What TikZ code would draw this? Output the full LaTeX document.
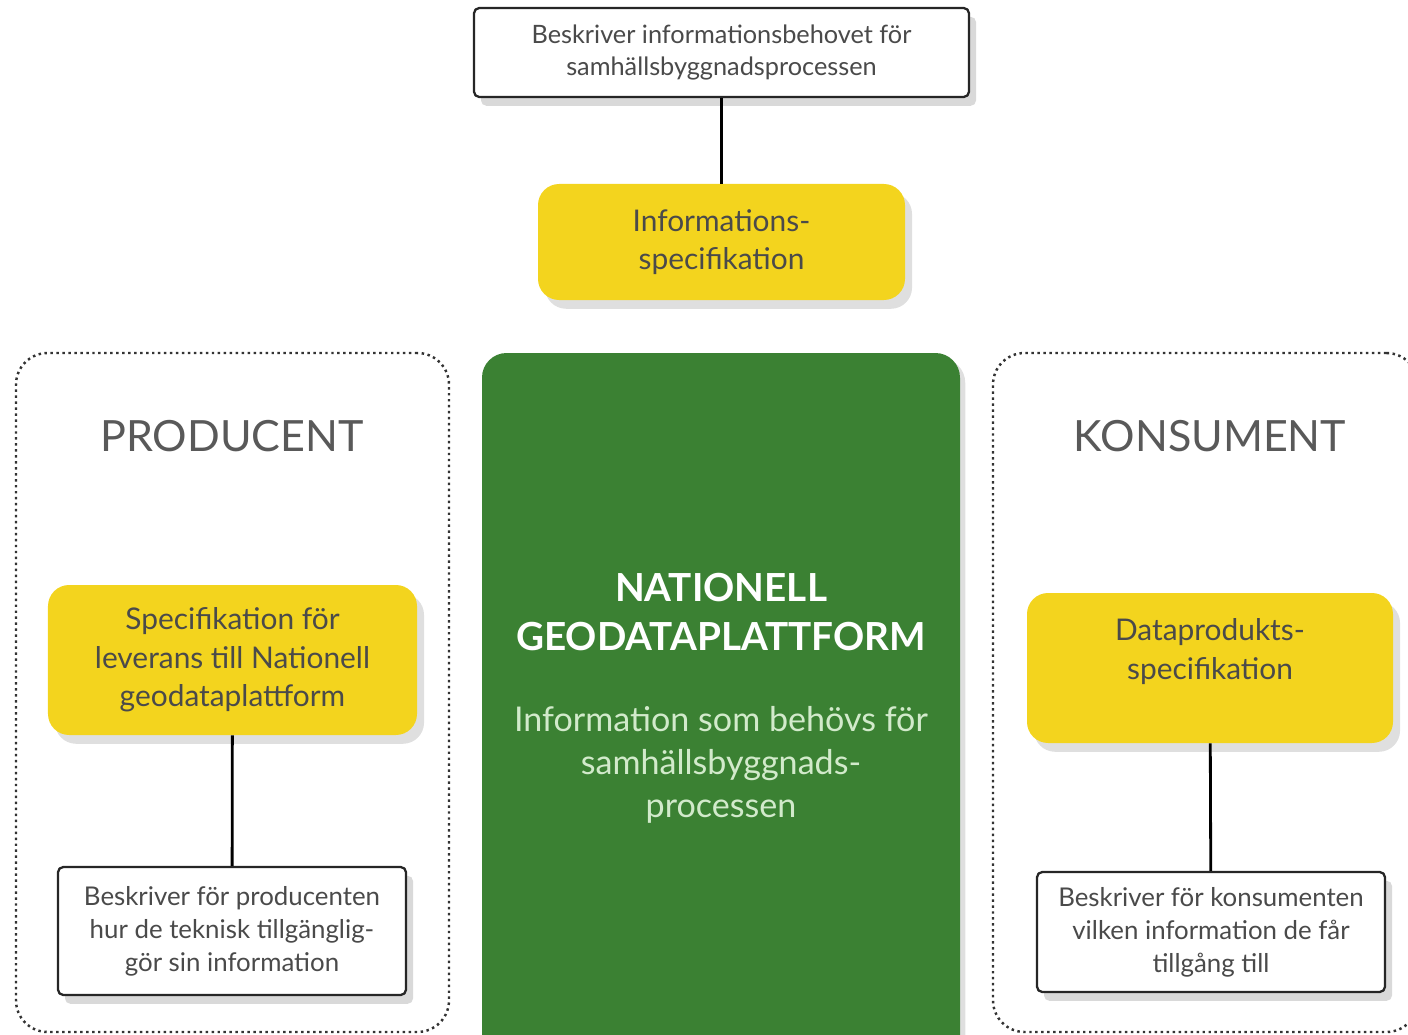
\documentclass[tikz,border=0pt]{standalone}
\usepackage{fontspec}
\setmainfont{Lato}
\usepackage{tikz}
\usetikzlibrary{shadows}

\definecolor{gpyellow}{HTML}{F3D41E}
\definecolor{gpgreen}{HTML}{3B8133}
\definecolor{gptext}{HTML}{4A4A4A}
\definecolor{gplight}{HTML}{D2EACB}

\begin{document}
\begin{tikzpicture}[line join=round]
    \tikzstyle{link} = [line width=1.6pt, draw=black]
    \tikzstyle{descbox} = [rectangle, rounded corners=3pt, draw=black!85, line width=1.3pt, fill=white, text=gptext, align=center, inner sep=0pt, drop shadow={opacity=0.3, shadow xshift=4pt, shadow yshift=-5pt}]
    \tikzstyle{specbox} = [rectangle, rounded corners=12pt, fill=gpyellow, text=gptext, align=center, inner sep=0pt, drop shadow={opacity=0.25, shadow xshift=4pt, shadow yshift=-5pt}]
    \tikzstyle{group} = [rectangle, rounded corners=18pt, draw=black!80, dotted, line width=1.4pt]
    \tikzstyle{grouptitle} = [text=black!65, font=\fontsize{24.5}{28}\selectfont]
    \useasboundingbox (0,0) rectangle (28.16,-20.7);

    % groups
    \node (prod) [group, minimum width=8.66cm, minimum height=13.58cm] at (4.65,-13.85) {};
    \node (kons) [group, minimum width=8.5cm, minimum height=13.58cm] at (24.11,-13.85) {};
    \node (prod-title) [grouptitle] at (4.64,-8.72) {PRODUCENT};
    \node (kons-title) [grouptitle] at (24.2,-8.72) {KONSUMENT};

    % platform
    \node (ngp) [rectangle, rounded corners=14pt, fill=gpgreen, minimum width=9.56cm, minimum height=14.4cm, drop shadow={opacity=0.25, shadow xshift=3pt, shadow yshift=-3pt}] at (14.42,-14.26) {};
    \node (ngp-title) [text=white, align=center, font=\bfseries\fontsize{22}{28}\selectfont] at (14.42,-12.24) {NATIONELL\\GEODATAPLATTFORM};
    \node (ngp-text) [text=gplight, align=center, font=\fontsize{19.4}{24.5}\selectfont] at (14.42,-15.3) {Information som behövs för\\samhällsbyggnads-\\processen};

    % information specification
    \node (info-desc) [descbox, minimum width=9.9cm, minimum height=1.78cm, font=\fontsize{14.4}{18}\selectfont] at (14.43,-1.05) {Beskriver informationsbehovet för\\samhällsbyggnadsprocessen};
    \node (info-spec) [specbox, minimum width=7.34cm, minimum height=2.32cm, font=\fontsize{17}{21.6}\selectfont] at (14.43,-4.84) {Informations-\\specifikation};

    % producer side
    \node (prod-spec) [specbox, minimum width=7.38cm, minimum height=3.0cm, font=\fontsize{17}{22}\selectfont] at (4.65,-13.2) {Specifikation för\\leverans till Nationell\\geodataplattform};
    \node (prod-desc) [descbox, minimum width=6.96cm, minimum height=2.56cm, font=\fontsize{14.7}{18.8}\selectfont] at (4.64,-18.62) {Beskriver för producenten\\hur de teknisk tillgänglig-\\gör sin information};

    % consumer side
    \node (kons-spec) [specbox, minimum width=7.32cm, minimum height=3.0cm, font=\fontsize{17}{22}\selectfont] at (24.2,-13.36) {Dataprodukts-\\specifikation\\\mbox{}};
    \node (kons-desc) [descbox, minimum width=6.96cm, minimum height=2.4cm, font=\fontsize{14.7}{18.8}\selectfont] at (24.22,-18.64) {Beskriver för konsumenten\\vilken information de får\\tillgång till};

    \draw [link] (info-desc) -- (info-spec);
    \draw [link] (prod-spec) -- (prod-desc);
    \draw [link] (kons-spec) -- (kons-desc);
\end{tikzpicture}
\end{document}
